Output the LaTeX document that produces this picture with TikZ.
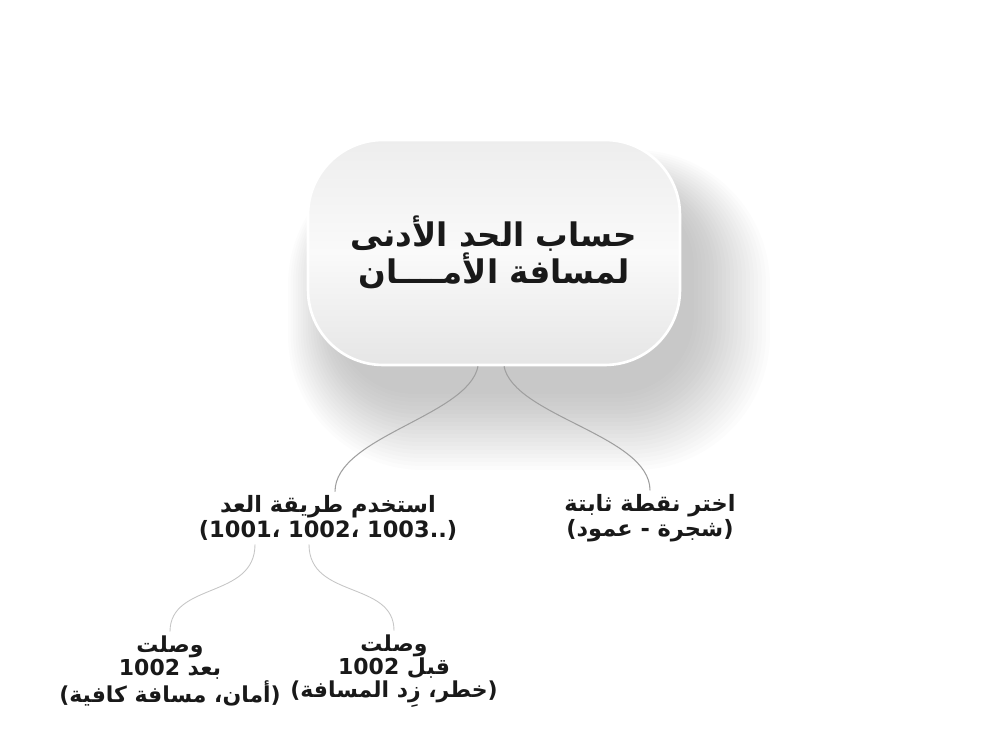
\documentclass[tikz,border=0pt]{standalone}
\usepackage{fontspec}
\usetikzlibrary{calc}
\TeXXeTstate=1
\newfontfamily\arabicfont[Script=Arabic]{DejaVu Sans}
\newfontfamily\digitfont{DejaVu Sans}

\begin{document}
\begin{tikzpicture}[x=0.02cm, y=0.02cm,
        title/.style={font=\arabicfont\bfseries\fontsize{18.5}{19}\selectfont, align=center, text=black!90},
        item/.style={font=\arabicfont\bfseries\fontsize{12.8}{14.2}\selectfont, align=center, text=black!90, inner sep=2pt},
        subitem/.style={font=\arabicfont\bfseries\fontsize{12.5}{13.2}\selectfont, align=center, text=black!90, inner sep=2pt},
        link/.style={draw=gray!75, line width=0.6pt},
        sublink/.style={draw=gray!45, line width=0.5pt}]
    \useasboundingbox (0,0) rectangle (1000,750);
    \foreach \i in {1, 2, ..., 20}
    {
        \fill[black, opacity=0.011, rounded corners=1.5cm+\i*0.06cm]
            (338-\i*2.5, 360-\i*4) rectangle (690+\i*4, 560+\i*2);
    }
    \node[title, minimum width=7.44cm, minimum height=4.5cm, rounded corners=1.5cm,
        top color=gray!14, bottom color=gray!20, middle color=white!96!gray,
        draw=white, line width=1.5pt] (root) at (494,497.5)
        {\beginR حساب الحد الأدنى\endR\\\beginR لمسافة الأمــــان\endR};
    \node[item] (count) at (328,232)
        {\beginR استخدم طريقة العد\endR\\{\digitfont\bfseries\beginL(1001، 1002، 1003..)\endL}};
    \node[item] (fixed) at (650,232)
        {\beginR اختر نقطة ثابتة\endR\\\beginR(شجرة - عمود)\endR};
    \node[subitem] (after) at (170,79)
        {\beginR وصلت\endR\\\beginR بعد \beginL1002\endL\endR\\\beginR(أمان، مسافة كافية)\endR};
    \node[subitem] (before) at (394,79)
        {\beginR وصلت\endR\\\beginR قبل \beginL1002\endL\endR\\\beginR(خطر، زِد المسافة)\endR};
    \draw[link] ($(root.south)+(-16,0)$) .. controls +(-10,-50) and +(0,55) .. ($(count.north)+(7,0)$);
    \draw[link] ($(root.south)+(10,0)$) .. controls +(10,-50) and +(0,55) .. (fixed.north);
    \draw[sublink] ($(count.south)+(-73,0)$) .. controls +(0,-55) and +(0,50) .. (after.north);
    \draw[sublink] ($(count.south)+(-19,0)$) .. controls +(0,-55) and +(0,50) .. (before.north);
\end{tikzpicture}
\end{document}
